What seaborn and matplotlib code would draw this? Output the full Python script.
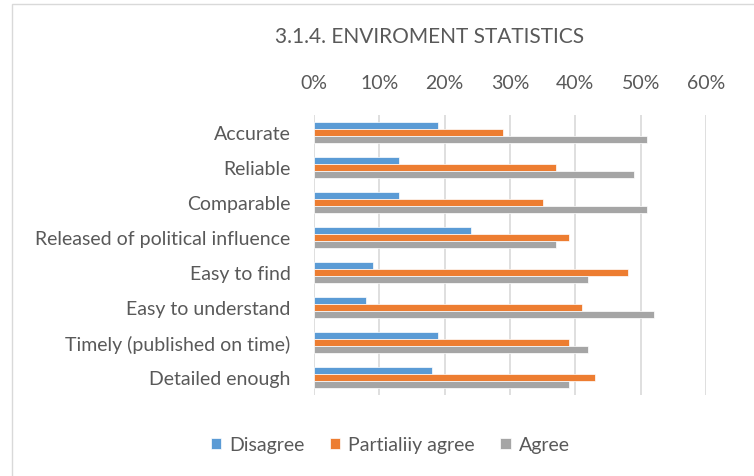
import pandas as pd
import matplotlib.pyplot as plt
import seaborn as sns
from matplotlib.patches import Rectangle
from matplotlib.ticker import PercentFormatter

categories = ["Accurate", "Reliable", "Comparable", "Released of political influence",
              "Easy to find", "Easy to understand", "Timely (published on time)",
              "Detailed enough"]
series = ["Disagree", "Partialiiy agree", "Agree"]
disagree = [19, 13, 13, 24, 9, 8, 19, 18]
partially = [29, 37, 35, 39, 48, 41, 39, 43]
agree = [51, 49, 51, 37, 42, 52, 42, 39]
colors = ["#5b9bd5", "#ed7d31", "#a5a5a5"]

df = pd.DataFrame({
    "category": categories * 3,
    "series": [s for s in series for _ in categories],
    "value": disagree + partially + agree,
})

sns.set_style("white")
plt.rcParams["font.family"] = ["Lato", "DejaVu Sans"]
txt = "#595959"

fig = plt.figure(figsize=(7.54, 4.77), dpi=100)
ax = fig.add_axes([314 / 754, 1 - 396 / 477, 392 / 754, 280 / 477])

sns.barplot(data=df, y="category", x="value", hue="series", order=categories,
            hue_order=series, palette=colors, saturation=1, orient="h", width=0.6,
            edgecolor="white", linewidth=0.5, ax=ax)

ax.set_xlim(0, 60)
ax.set_xticks(range(0, 61, 10))
ax.xaxis.set_major_formatter(PercentFormatter(decimals=0))
ax.xaxis.tick_top()
ax.tick_params(axis="both", length=0, labelsize=14, labelcolor=txt)
ax.tick_params(axis="x", pad=17)
ax.tick_params(axis="y", pad=17)
ax.grid(axis="x", color="#d9d9d9", linewidth=1.2)
ax.set_axisbelow(True)
for s in ax.spines.values():
    s.set_visible(False)
ax.set_xlabel("")
ax.set_ylabel("")

handles, labels = ax.get_legend_handles_labels()
ax.legend_.remove()
fig.legend(handles, labels, loc="center", bbox_to_anchor=(390 / 754, 1 - 446 / 477),
           ncol=3, frameon=False, fontsize=14, labelcolor=txt, handlelength=0.55,
           handleheight=0.55, handletextpad=0.4, columnspacing=1.3)

fig.text(430 / 754, 1 - 37 / 477, "3.1.4. ENVIROMENT STATISTICS", ha="center",
         va="center", fontsize=15, color=txt)

fig.patches.append(Rectangle((12 / 754, -0.1), 1.2, 1 - 5 / 477 + 0.1,
                             transform=fig.transFigure, fill=False,
                             edgecolor="#d9d9d9", linewidth=1))

fig.savefig("out.png", dpi=100)
